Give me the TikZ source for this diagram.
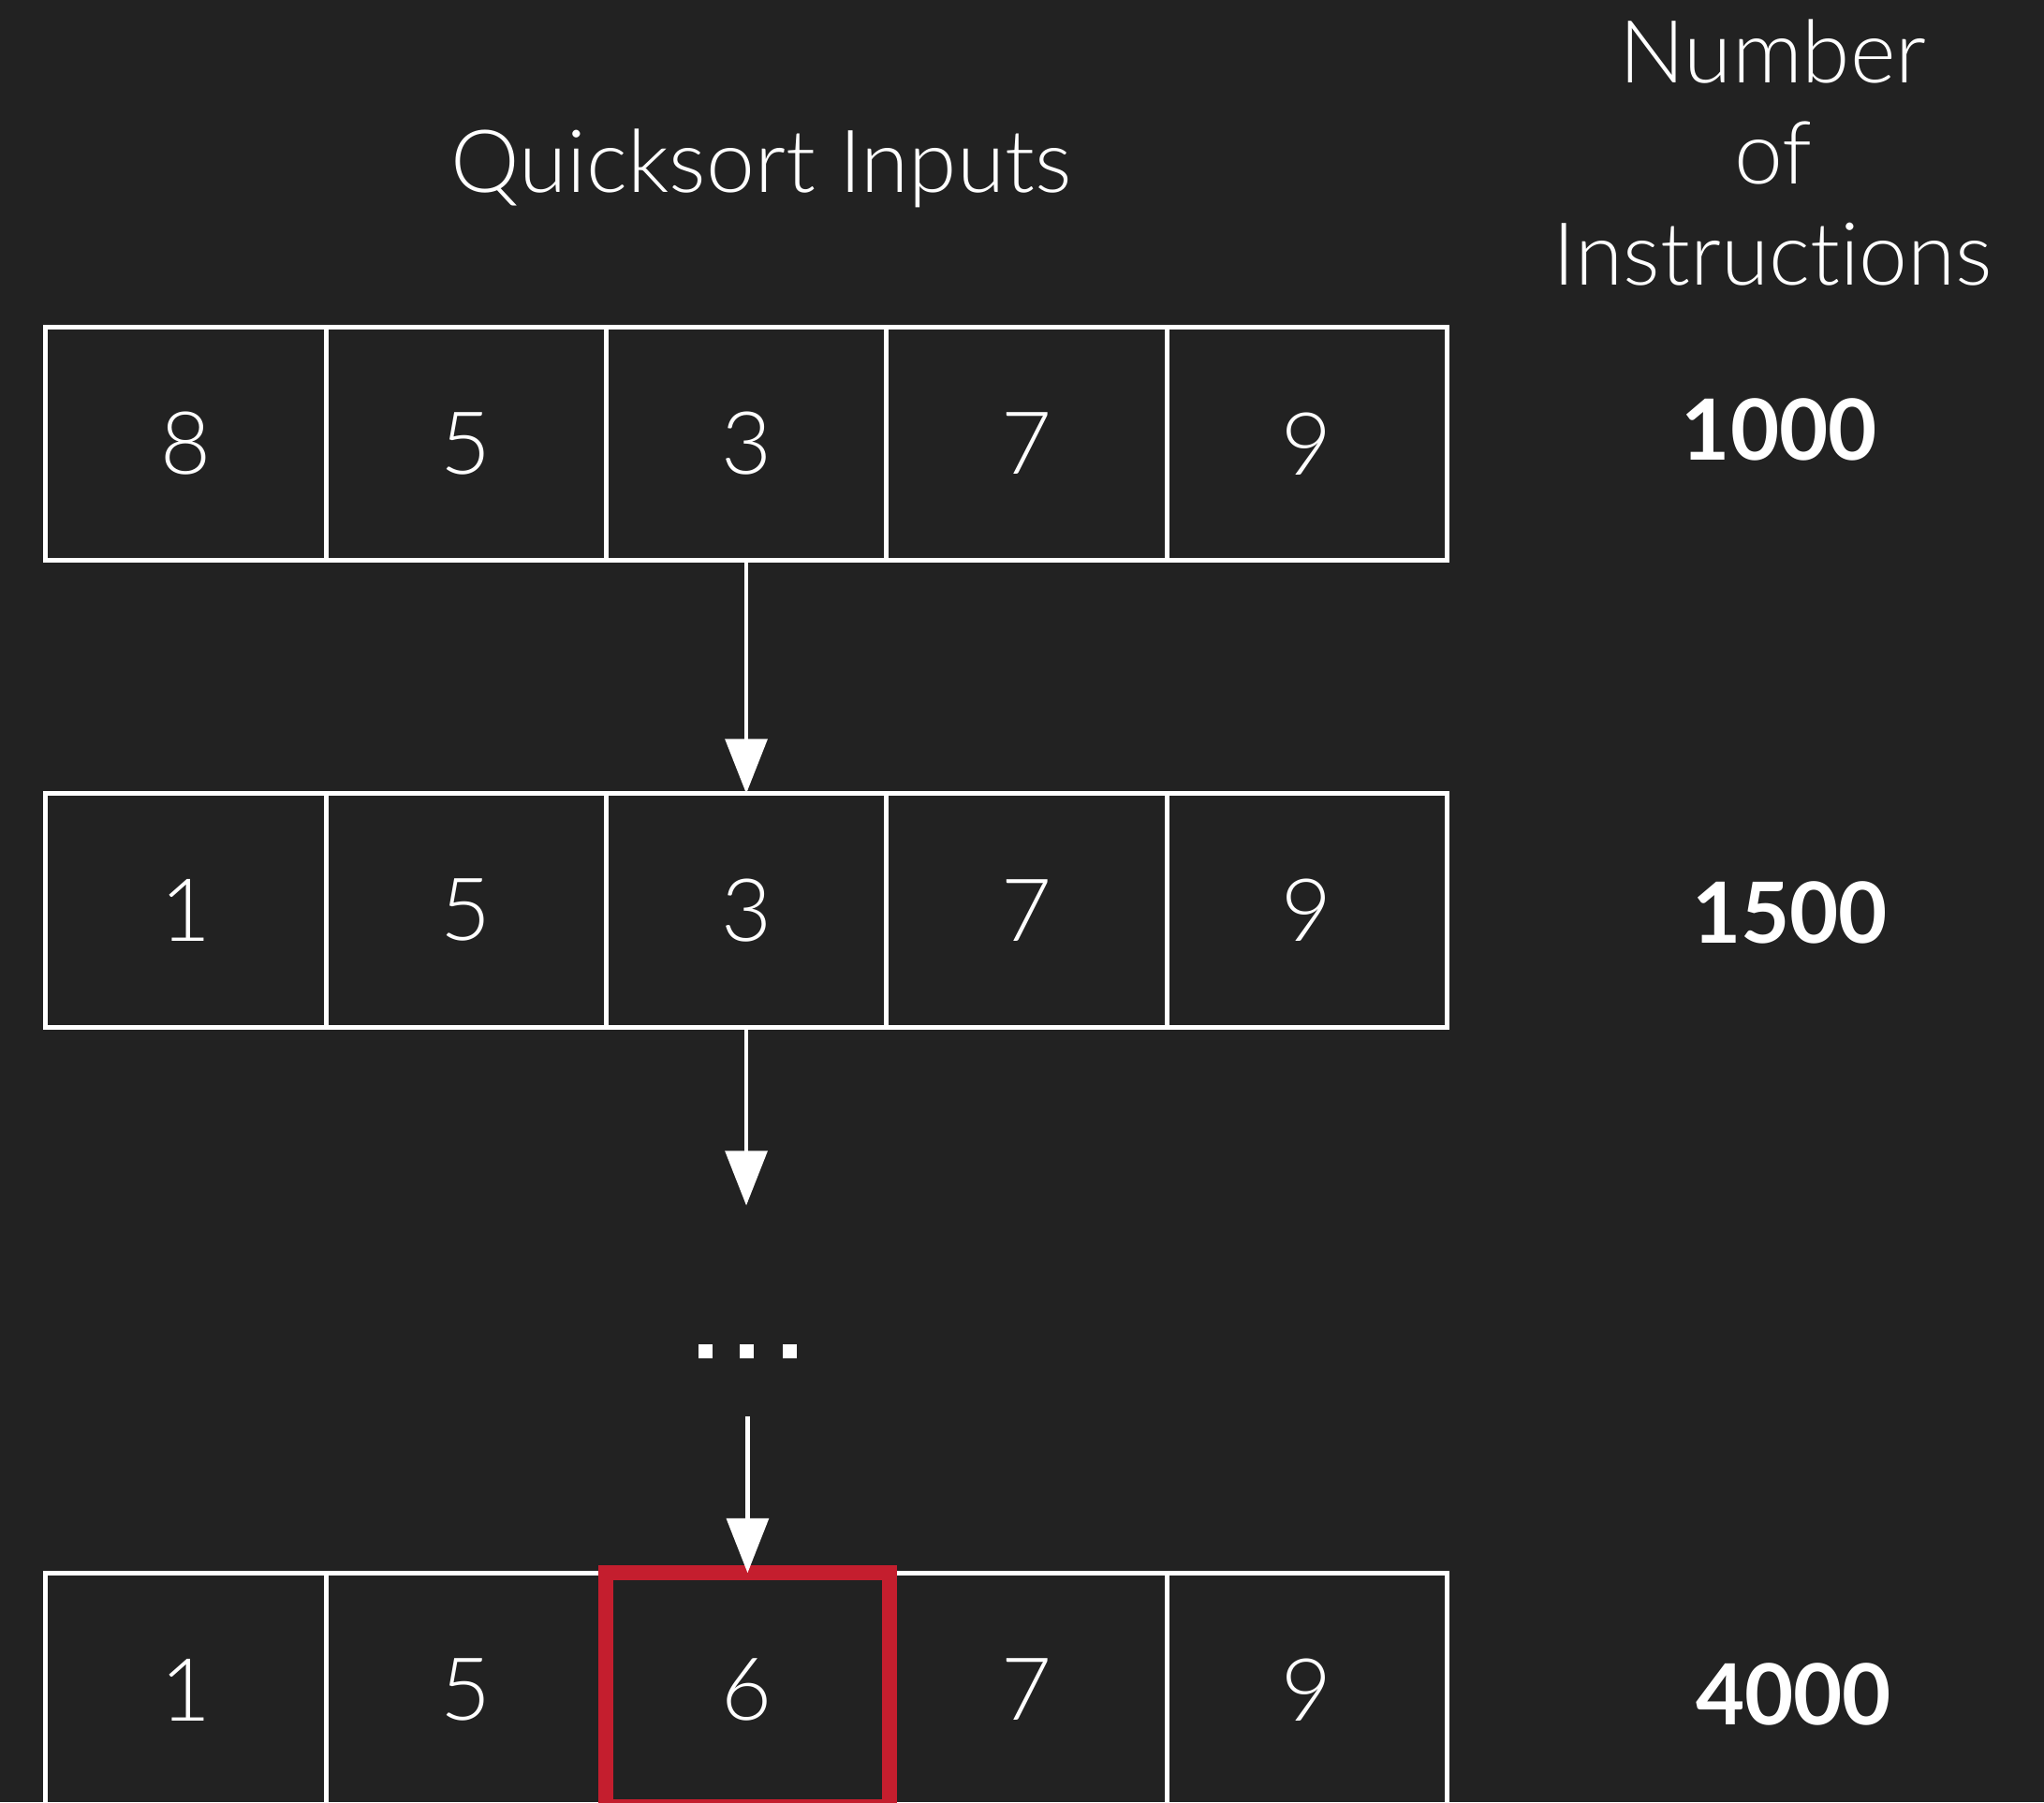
\documentclass[tikz,border=0pt]{standalone}
\usepackage{fontspec}
\setmainfont{Lato Light}[BoldFont={Lato Bold}, RawFeature={-liga}]
\usetikzlibrary{arrows.meta}
\definecolor{bg}{RGB}{34,34,34}
\definecolor{hl}{RGB}{196,30,46}
\tikzset{
  cell/.style={draw=white, line width=1pt, minimum width=2.15cm, minimum height=1.79cm,
    inner sep=0pt, outer sep=0pt, text=white, font=\fontsize{19}{19}\selectfont},
  count/.style={text=white, font=\fontsize{18.4}{18.4}\selectfont\bfseries},
  label/.style={text=white, font=\fontsize{19}{22}\selectfont, align=center},
  flow/.style={draw=white, line width=1pt, -{Triangle[width=0.32cm,length=0.42cm]}, fill=white},
  dot/.style={fill=white, draw=none},
  hlbox/.style={draw=hl, line width=3.3pt, inner sep=0pt, outer sep=0pt, minimum width=2.17cm, minimum height=1.79cm}
}
\begin{document}
\begin{tikzpicture}[x=0.01cm, y=-0.01cm]
  \useasboundingbox (0,0) rectangle (1568,1383);
  \clip (0,0) rectangle (1568,1383);
  \fill[bg] (0,0) rectangle (1568,1383);

  \node[label] (title) at (584,129) {Quicksort Inputs};
  \node[label] (ninstr) at (1360,117) {Number\\of\\Instructions};

  % row 1
  \node[cell] (a1) at (142.5,340.5) {8};
  \node[cell] (a2) at (357.5,340.5) {5};
  \node[cell] (a3) at (572.5,340.5) {3};
  \node[cell] (a4) at (787.5,340.5) {7};
  \node[cell] (a5) at (1002.5,340.5) {9};
  % row 2
  \node[cell] (b1) at (142.5,698.5) {1};
  \node[cell] (b2) at (357.5,698.5) {5};
  \node[cell] (b3) at (572.5,698.5) {3};
  \node[cell] (b4) at (787.5,698.5) {7};
  \node[cell] (b5) at (1002.5,698.5) {9};
  % row 3
  \node[cell] (c1) at (142.5,1296.5) {1};
  \node[cell] (c2) at (357.5,1296.5) {5};
  \node[cell] (c3) at (572.5,1296.5) {6};
  \node[cell] (c4) at (787.5,1296.5) {7};
  \node[cell] (c5) at (1002.5,1296.5) {9};
  \node[hlbox] (hl) at (573.5,1296.5) {};

  \node[count] (n1) at (1365,330) {1000};
  \node[count] (n2) at (1373,700) {1500};
  \node[count] (n3) at (1376,1300) {4000};

  % arrows
  \draw[flow] (a3.south) -- (b3.north);
  \coordinate (e2) at (572.5,925);
  \draw[flow] (b3.south) -- (e2);
  \coordinate (s3) at (573.5,1087);
  \draw[flow] (s3) -- (hl.north);

  % ellipsis
  \fill[dot] (535.5,1031.5) rectangle +(11,11);
  \fill[dot] (567.5,1031.5) rectangle +(11,11);
  \fill[dot] (600.5,1031.5) rectangle +(11,11);
\end{tikzpicture}
\end{document}
